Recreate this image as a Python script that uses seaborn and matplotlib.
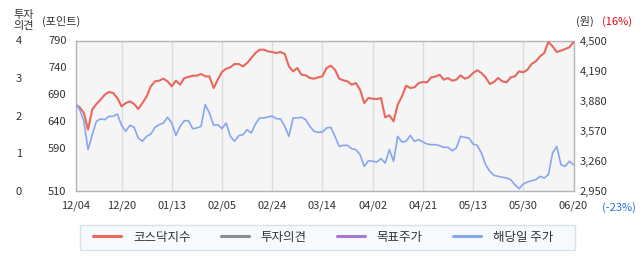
import numpy as np
import pandas as pd
import matplotlib
matplotlib.use("Agg")
import matplotlib.pyplot as plt
from matplotlib.lines import Line2D
from matplotlib.patches import Rectangle
import seaborn as sns

# ---------------- data ----------------
tick_dates = ['12/04', '12/20', '01/13', '02/05', '02/24', '03/14',
              '04/02', '04/21', '05/13', '05/30', '06/20']
tick_index = [0, 11, 23, 35, 47, 59, 71, 83, 95, 107, 119]

kosdaq = [670.6, 665.6, 655.1, 624.1, 661.3, 671.9, 679.9, 689.2, 694.2, 692.3,
          683.0, 667.5, 673.7, 676.8, 671.9, 662.5, 673.7, 686.1, 704.7, 714.0,
          715.3, 719.0, 714.0, 704.7, 715.3, 707.8, 720.2, 722.1, 724.6, 724.6,
          727.7, 723.3, 723.3, 701.6, 717.1, 731.4, 737.6, 740.1, 746.3, 746.3,
          741.9, 748.1, 757.4, 766.7, 772.9, 772.9, 769.8, 768.6, 766.7, 768.6,
          764.9, 741.9, 732.6, 738.8, 726.4, 725.2, 720.2, 719.0, 721.5, 723.3,
          738.8, 743.2, 735.7, 719.0, 715.9, 714.0, 707.8, 710.9, 698.5, 673.7,
          683.0, 681.7, 681.1, 683.0, 647.0, 650.8, 639.6, 670.6, 686.1, 706.0,
          701.6, 702.9, 710.9, 712.8, 712.2, 721.5, 722.7, 726.4, 717.1, 720.2,
          715.3, 717.1, 725.2, 719.0, 721.5, 729.5, 734.5, 729.5, 721.5, 709.1,
          712.8, 720.2, 714.0, 712.2, 721.5, 723.3, 732.6, 730.8, 735.7, 746.3,
          751.2, 760.5, 766.7, 787.2, 779.2, 768.6, 771.1, 774.2, 777.3, 787.2]

price = [3853, 3788, 3668, 3376, 3530, 3668, 3692, 3685, 3719, 3719,
         3743, 3626, 3565, 3626, 3606, 3496, 3462, 3513, 3537, 3606,
         3633, 3650, 3709, 3650, 3523, 3616, 3674, 3674, 3592, 3599,
         3616, 3839, 3753, 3626, 3633, 3592, 3650, 3513, 3462, 3520,
         3530, 3582, 3547, 3640, 3702, 3702, 3712, 3722, 3695, 3692,
         3616, 3513, 3702, 3702, 3709, 3685, 3616, 3565, 3554, 3558,
         3599, 3606, 3513, 3410, 3420, 3420, 3386, 3376, 3324, 3204,
         3262, 3256, 3249, 3283, 3238, 3376, 3256, 3513, 3455, 3462,
         3523, 3462, 3479, 3455, 3434, 3427, 3427, 3417, 3400, 3400,
         3365, 3393, 3513, 3503, 3496, 3434, 3420, 3341, 3221, 3153,
         3111, 3101, 3091, 3084, 3067, 3015, 2974, 3022, 3043, 3056,
         3067, 3101, 3084, 3118, 3341, 3410, 3221, 3204, 3256, 3221]

opinion = []       # 투자의견: no data shown
target_price = []  # 목표주가: no data shown

kosdaq_ticks = [790, 740, 690, 640, 590, 510]
price_ticks = [2950, 3260, 3570, 3880, 4190, 4500]
opinion_ticks = [0, 1, 2, 3, 4]

series_labels = ['코스닥지수', '투자의견', '목표주가', '해당일 주가']
series_colors = ['#e8685c', '#8c8c8c', '#a877d4', '#86a7ef']

# ---------------- style ----------------
sns.set_style("white")
plt.rcParams['font.family'] = ['Noto Sans CJK KR', 'DejaVu Sans']
plt.rcParams['axes.unicode_minus'] = False
txt = '#333333'

W, H = 642, 268
fig = plt.figure(figsize=(W / 100, H / 100), dpi=100)
L, R, T, B = 75.5, 573.5, 40.5, 191.0
ax = fig.add_axes([L / W, 1 - B / H, (R - L) / W, (B - T) / H])
ax.set_facecolor('#f5f5f5')

df = pd.DataFrame({'idx': np.arange(len(kosdaq)), 'kosdaq': kosdaq, 'price': price})

# kosdaq on left axis
sns.lineplot(data=df, x='idx', y='kosdaq', ax=ax, color=series_colors[0],
             linewidth=1.5, zorder=3)
ax.set_xlim(0, len(kosdaq) - 1)
ax.set_ylim(510, 790)
ax.set_yticks(kosdaq_ticks)
ax.set_yticklabels([str(v) for v in kosdaq_ticks])
ax.set_xticks(tick_index)
ax.set_xticklabels(tick_dates)
ax.set_xlabel('')
ax.set_ylabel('')
ax.tick_params(axis='y', length=0, pad=6.5, labelsize=8, colors=txt)
ax.tick_params(axis='x', length=0, pad=7, labelsize=8, colors=txt)
ax.grid(axis='x', color='#dcdcdc', linewidth=1.0)
ax.grid(axis='y', visible=False)
for s in ax.spines.values():
    s.set_color('#b4b4b4')
    s.set_linewidth(1.0)

# stock price on right axis
axp = ax.twinx()
sns.lineplot(data=df, x='idx', y='price', ax=axp, color=series_colors[3],
             linewidth=1.2, zorder=3)
axp.set_ylim(2950, 4500)
axp.set_yticks(price_ticks)
axp.set_yticklabels([f'{v:,}' for v in price_ticks])
axp.set_ylabel('')
axp.set_xlabel('')
axp.tick_params(axis='y', length=0, pad=4.5, labelsize=8, colors=txt)
axp.grid(False)
for s in axp.spines.values():
    s.set_visible(False)

# investment opinion scale (leftmost)
axo = ax.twinx()
axo.set_ylim(0, 4)
axo.yaxis.set_ticks_position('left')
axo.spines['left'].set_position(('outward', 36))
axo.set_yticks(opinion_ticks)
axo.set_yticklabels([str(v) for v in opinion_ticks])
axo.tick_params(axis='y', length=0, pad=2.5, labelsize=8, colors=txt)
axo.grid(False)
for s in axo.spines.values():
    s.set_visible(False)
axo.plot(np.arange(len(opinion)), opinion, color=series_colors[1])
axp.plot(np.arange(len(target_price)), target_price, color=series_colors[2])

# header / annotation texts
fig.text(13 / W, 1 - 20.5 / H, '투자\n의견', ha='left', va='center', fontsize=8,
         color=txt, linespacing=1.05)
fig.text(42 / W, 1 - 21.5 / H, '(포인트)', ha='left', va='center', fontsize=8, color=txt)
fig.text(576 / W, 1 - 21.5 / H, '(원)', ha='left', va='center', fontsize=8, color=txt)
fig.text(602 / W, 1 - 21.5 / H, '(16%)', ha='left', va='center', fontsize=8, color='#e60012')
fig.text(602 / W, 1 - 207.5 / H, '(-23%)', ha='left', va='center', fontsize=8, color='#1a74d6')

# legend box + legend
box = Rectangle((80 / W, 1 - 249.5 / H), 495 / W, 24.5 / H, transform=fig.transFigure,
                facecolor='#f7fafd', edgecolor='#d6e2ea', linewidth=1.0, zorder=1)
fig.add_artist(box)
handles = [Line2D([0], [0], color=c, linewidth=2.2) for c in series_colors]
leg = fig.legend(handles, series_labels, loc='center',
                 bbox_to_anchor=(323 / W, 1 - 237 / H), ncol=4, fontsize=9,
                 handlelength=2.25, handletextpad=0.95, columnspacing=2.4,
                 borderpad=0.3, frameon=False)
leg.set_zorder(5)
for t in leg.get_texts():
    t.set_color(txt)

fig.savefig('out.png', dpi=100)
